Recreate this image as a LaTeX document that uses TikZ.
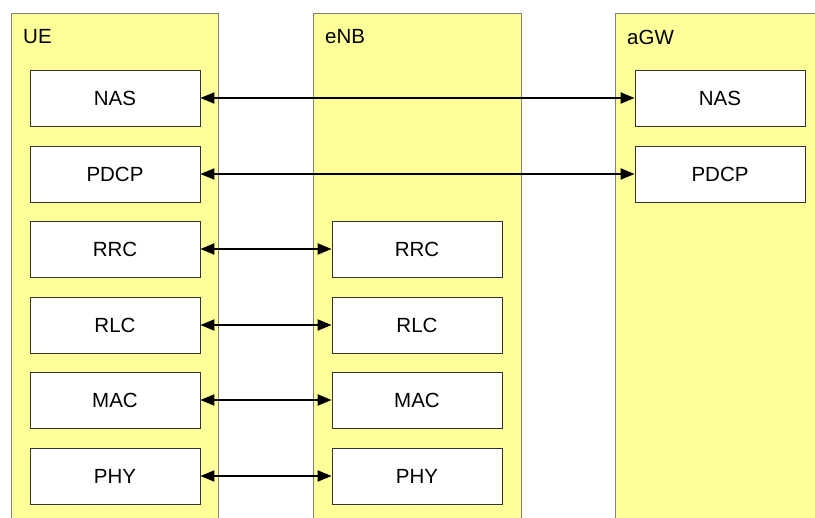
\documentclass[tikz,border=0pt]{standalone}
\usepackage{fontspec}
\setmainfont{Liberation Sans}
\usepackage{tikz}
\usetikzlibrary{positioning, calc, arrows.meta}
\definecolor{entityyellow}{HTML}{FFFF99}
\definecolor{colgray}{HTML}{808080}
\definecolor{boxgray}{HTML}{333333}

\begin{document}
\begin{tikzpicture}[x=1pt,y=-1pt, font=\fontsize{20.5}{24}\selectfont, entity/.style={shape=rectangle, draw=colgray, fill=entityyellow, line width=0.8pt, anchor=north west, inner sep=0pt}, layer/.style={shape=rectangle, draw=boxgray, fill=white, line width=0.8pt, minimum width=170pt, minimum height=56pt, inner sep=0pt}, link/.style={{Triangle[length=14pt,width=11pt]}-{Triangle[length=14pt,width=11pt]}, line width=2pt}]
\clip (0,0) rectangle (815,518);
\useasboundingbox (0,0) rectangle (815,518);
\foreach \name/\x/\w in {UE/11/207, eNB/313/208, aGW/615/215} {
	\node[entity, minimum width=\w pt, minimum height=520pt] (\name col) at (\x, 13) {};
	\node[anchor=west, inner sep=0pt] (\name label) at ($(\name col.north west)+(12,24)$) {\name};
}
\foreach \l/\y in {NAS/98, PDCP/174, RRC/249, RLC/325, MAC/400, PHY/476} {
	\node[layer] (UE \l) at (115, \y) {\l};
}
\foreach \l/\y in {RRC/249, RLC/325, MAC/400, PHY/476} {
	\node[layer] (eNB \l) at (417, \y) {\l};
	\draw[link] (UE \l.east) -- (eNB \l.west);
}
\foreach \l/\y in {NAS/98, PDCP/174} {
	\node[layer] (aGW \l) at (720, \y) {\l};
	\draw[link] (UE \l.east) -- (aGW \l.west);
}
\end{tikzpicture}
\end{document}
